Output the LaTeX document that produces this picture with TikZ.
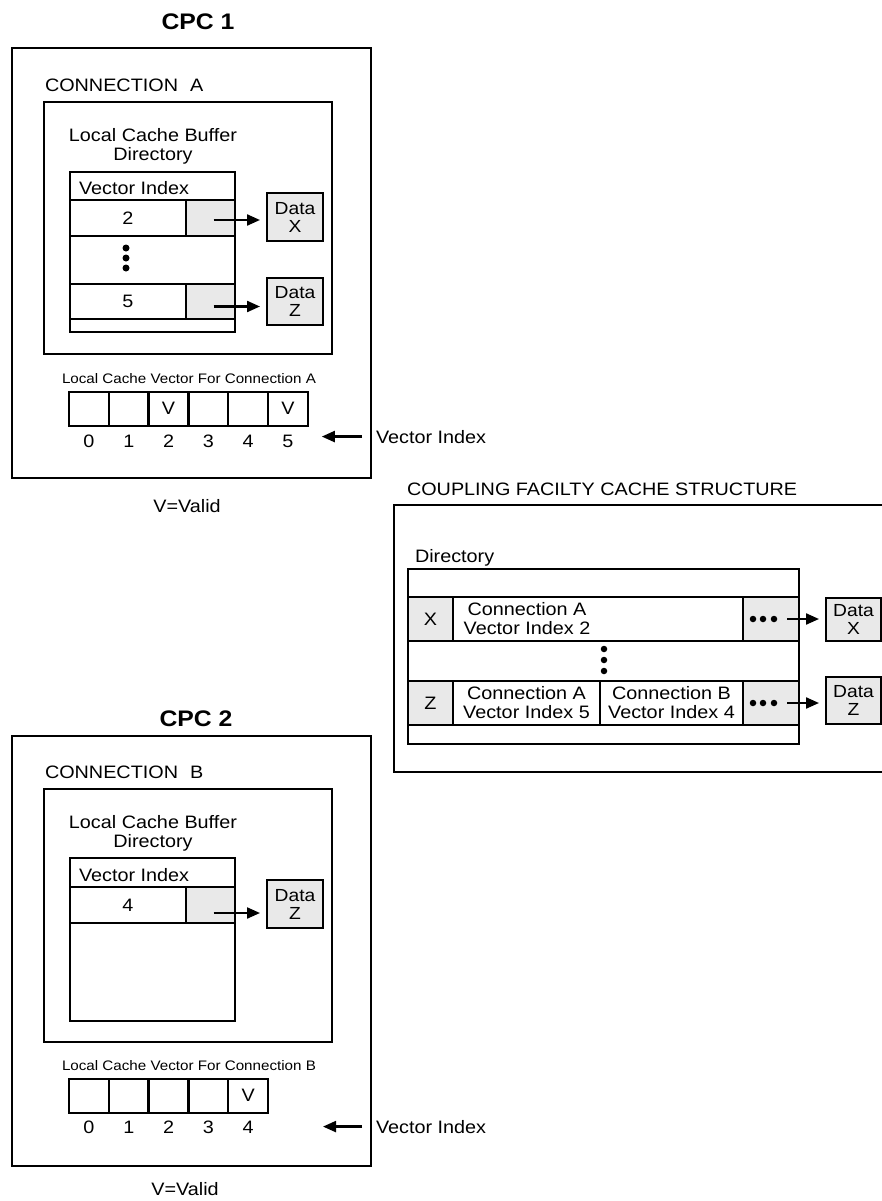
\documentclass[tikz,border=0pt]{standalone}
\usepackage{fontspec}
\setmainfont[FakeStretch=1.1]{Liberation Sans}
\usetikzlibrary{arrows.meta,calc}
\definecolor{cellgray}{RGB}{233,233,233}
\newcommand{\myfN}{\fontsize{18}{19}\selectfont}
\newcommand{\myfS}{\fontsize{13.8}{16}\selectfont}
\newcommand{\myfT}{\fontsize{22.5}{26}\selectfont\bfseries}
\newcommand{\myfD}{\fontsize{17.5}{18}\selectfont}
\begin{document}
\begin{tikzpicture}[x=1pt,y=-1pt,
  ln/.style={line width=2.4pt},
  bx/.style={draw, line width=2.4pt, inner sep=0pt, outer sep=0pt, anchor=north west, font=\myfN},
  gbx/.style={bx, fill=cellgray},
  databox/.style={gbx, align=center, font=\myfD},
  tx/.style={inner sep=0pt, outer sep=0pt, font=\myfN},
  arr/.style={line width=2.2pt, -{Triangle[length=13pt,width=11pt]}},
  dot/.style={circle, fill, inner sep=0pt, minimum size=7pt}]
\path[use as bounding box] (0,0) rectangle (882,1201);

% ================= CPC 1 =================
\node[tx, font=\myfT, anchor=base] (cpcAt) at (198,30) {CPC 1};
\node[bx, minimum width=359pt, minimum height=430pt] (cpcA) at (12,48) {};
\node[tx, anchor=base west] (connAt) at (45,92) {CONNECTION\hspace*{12pt}A};
\node[bx, minimum width=288pt, minimum height=252pt] (connA) at (44,102) {};
\node[tx, anchor=north, align=center] (lcbA) at (153,128) {Local Cache Buffer\\Directory};
\node[bx, minimum width=165pt, minimum height=160pt] (dirA) at (70,172) {};
\node[bx, minimum width=165pt, minimum height=28pt] (hdrA) at (70,172) {};
\node[tx, anchor=base west] (hdrAt) at (79,194) {Vector Index};
\node[bx, minimum width=116pt, minimum height=36pt] (r2A) at (70,200) {2};
\node[gbx, minimum width=49pt, minimum height=36pt] (g2A) at (186,200) {};
\node[dot] (dA1) at (126,248) {};
\node[dot] (dA2) at (126,258) {};
\node[dot] (dA3) at (126,268) {};
\node[bx, minimum width=116pt, minimum height=35pt] (r5A) at (70,284) {5};
\node[gbx, minimum width=49pt, minimum height=35pt] (g5A) at (186,284) {};
\node[databox, minimum width=56pt, minimum height=48pt] (dXA) at (267,193) {Data\\X};
\node[databox, minimum width=56pt, minimum height=47pt] (dZA) at (267,278) {Data\\Z};
\draw[arr] ($(g2A.center)+(3,2)$) -- ($(g2A.center -| dXA.west)+(-7,2)$);
\draw[arr] ($(g5A.center)+(3,5)$) -- ($(g5A.center -| dZA.west)+(-7,5)$);

\node[tx, font=\myfS, anchor=base] (lcvA) at (189,383) {Local Cache Vector For Connection A};
\foreach \i/\v in {0/,1/,2/V,3/,4/,5/V}{
  \node[bx, minimum width=39.8pt, minimum height=34pt] (vA\i) at ({69+39.8*\i},392) {\raisebox{2pt}{\v}};
  \node[tx, anchor=base] (nA\i) at ({89+39.8*\i},447) {\i};
}
\node[tx, anchor=base west] (viA) at (376,443) {Vector Index};
\draw[arr] ($(viA.west)+(-14,0)$) -- ($(viA.west -| vA5.east)+(14,0)$);
\node[tx, anchor=base] (validA) at (187,512) {V=Valid};

% ================= Coupling facility =================
\node[tx, anchor=base west] (cfT) at (407,495) {COUPLING FACILTY CACHE STRUCTURE};
\draw[ln] (886,505) -- (394,505) -- (394,772) -- (886,772);
\node[tx, anchor=base west] (cfDirT) at (415,562) {Directory};
\node[bx, minimum width=391pt, minimum height=175pt] (cfDir) at (408,569) {};
\node[gbx, minimum width=45pt, minimum height=44pt] (xg) at (408,597) {X};
\node[bx, minimum width=290pt, minimum height=44pt] (xt) at (453,597) {};
\node[tx, align=center] (xtl) at (527,619) {Connection A\\Vector Index 2};
\node[gbx, minimum width=56pt, minimum height=44pt] (xd) at (743,597) {};
\node[dot, minimum size=6.5pt] (xd1) at (753,619) {};
\node[dot, minimum size=6.5pt] (xd2) at (763,619) {};
\node[dot, minimum size=6.5pt] (xd3) at (774,619) {};
\node[dot, minimum size=6.5pt] (cd1) at (604,649) {};
\node[dot, minimum size=6.5pt] (cd2) at (604,660) {};
\node[dot, minimum size=6.5pt] (cd3) at (604,671) {};
\node[gbx, minimum width=45pt, minimum height=44pt] (zg) at (408,681) {Z};
\node[bx, minimum width=147pt, minimum height=44pt, align=center] (za) at (453,681) {Connection A\\Vector Index 5};
\node[bx, minimum width=143pt, minimum height=44pt, align=center] (zb) at (600,681) {Connection B\\Vector Index 4};
\node[gbx, minimum width=56pt, minimum height=44pt] (zd) at (743,681) {};
\node[dot, minimum size=6.5pt] (zd1) at (753,703) {};
\node[dot, minimum size=6.5pt] (zd2) at (763,703) {};
\node[dot, minimum size=6.5pt] (zd3) at (774,703) {};
\node[databox, minimum width=55pt, minimum height=43pt] (dXC) at (826,598) {Data\\X};
\node[databox, minimum width=55pt, minimum height=47pt] (dZC) at (826,677) {Data\\Z};
\draw[arr] ($(xd.center)+(16,0)$) -- ($(xd.center -| dXC.west)+(-7,0)$);
\draw[arr] ($(zd.center)+(16,0)$) -- ($(zd.center -| dZC.west)+(-7,0)$);

% ================= CPC 2 =================
\node[tx, font=\myfT, anchor=base] (cpcBt) at (196,726) {CPC 2};
\node[bx, minimum width=359pt, minimum height=430pt] (cpcB) at (12,736) {};
\node[tx, anchor=base west] (connBt) at (45,778) {CONNECTION\hspace*{12pt}B};
\node[bx, minimum width=288pt, minimum height=253pt] (connB) at (44,789) {};
\node[tx, anchor=north, align=center] (lcbB) at (153,815) {Local Cache Buffer\\Directory};
\node[bx, minimum width=165pt, minimum height=163pt] (dirB) at (70,858) {};
\node[bx, minimum width=165pt, minimum height=29pt] (hdrB) at (70,858) {};
\node[tx, anchor=base west] (hdrBt) at (79,881) {Vector Index};
\node[bx, minimum width=116pt, minimum height=36pt] (r4B) at (70,887) {4};
\node[gbx, minimum width=49pt, minimum height=36pt] (g4B) at (186,887) {};
\node[databox, minimum width=56pt, minimum height=48pt] (dZB) at (267,880) {Data\\Z};
\draw[arr] ($(g4B.center)+(3,8)$) -- ($(g4B.center -| dZB.west)+(-7,8)$);

\node[tx, font=\myfS, anchor=base] (lcvB) at (189,1070) {Local Cache Vector For Connection B};
\foreach \i/\v in {0/,1/,2/,3/,4/V}{
  \node[bx, minimum width=39.8pt, minimum height=34pt] (vB\i) at ({69+39.8*\i},1079) {\raisebox{2pt}{\v}};
  \node[tx, anchor=base] (nB\i) at ({89+39.8*\i},1133) {\i};
}
\node[tx, anchor=base west] (viB) at (376,1133) {Vector Index};
\draw[arr] ($(viB.west)+(-14,0)$) -- ($(viB.west -| vB4.east)+(55,0)$);
\node[tx, anchor=base] (validB) at (185,1195) {V=Valid};
\end{tikzpicture}
\end{document}
